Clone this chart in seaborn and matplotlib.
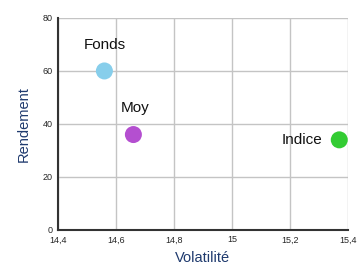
import matplotlib
matplotlib.use("Agg")
import matplotlib.pyplot as plt
import matplotlib.ticker as mticker
import seaborn as sns
import pandas as pd

names = ["Fonds", "Moy", "Indice"]
volatilite = [14.56, 14.66, 15.37]
rendement = [60, 36, 34]
colors = ["#87ceeb", "#b44fd0", "#33cc33"]

df = pd.DataFrame({"name": names, "vol": volatilite, "rend": rendement})

sns.set_style("white")
plt.rcParams['font.family'] = ['Liberation Sans', 'DejaVu Sans']

fig = plt.figure(figsize=(3.58, 2.68), dpi=100)
ax = fig.add_axes([0.162, 0.142, 0.810, 0.791])

sns.scatterplot(data=df, x="vol", y="rend", hue="name", palette=dict(zip(names, colors)),
                s=150, edgecolor="none", legend=False, ax=ax, zorder=3, clip_on=False)

# labels next to the points
offsets = {"Fonds": (0, 19, "center"), "Moy": (1, 19, "center"), "Indice": (-12, 0, "right")}
for n, x, y in zip(names, volatilite, rendement):
    dx, dy, ha = offsets[n]
    ax.annotate(n, (x, y), xytext=(dx, dy), textcoords="offset points",
                ha=ha, va="center", fontsize=11, color="#111111")

ax.set_xlim(14.4, 15.4)
ax.set_ylim(0, 80)
ax.set_xticks([14.4, 14.6, 14.8, 15, 15.2, 15.4])
ax.set_yticks([0, 20, 40, 60, 80])
fmt = mticker.FuncFormatter(lambda v, p: f"{round(v, 1):g}".replace(".", ","))
ax.xaxis.set_major_formatter(fmt)
ax.yaxis.set_major_formatter(fmt)
ax.tick_params(labelsize=6.5, length=2.5, width=1, color="#333333", pad=1.5)
ax.grid(True, color="#c4c4c4", linewidth=1)
for s in ["top", "right"]:
    ax.spines[s].set_visible(False)
for s in ["left", "bottom"]:
    ax.spines[s].set_color("#333333")
    ax.spines[s].set_linewidth(1.5)

ax.set_xlabel("Volatilité", fontsize=10.5, color="#1f3a6e", labelpad=5)
ax.set_ylabel("Rendement", fontsize=10.5, color="#1f3a6e", labelpad=8)

fig.savefig("out.png", dpi=100)
